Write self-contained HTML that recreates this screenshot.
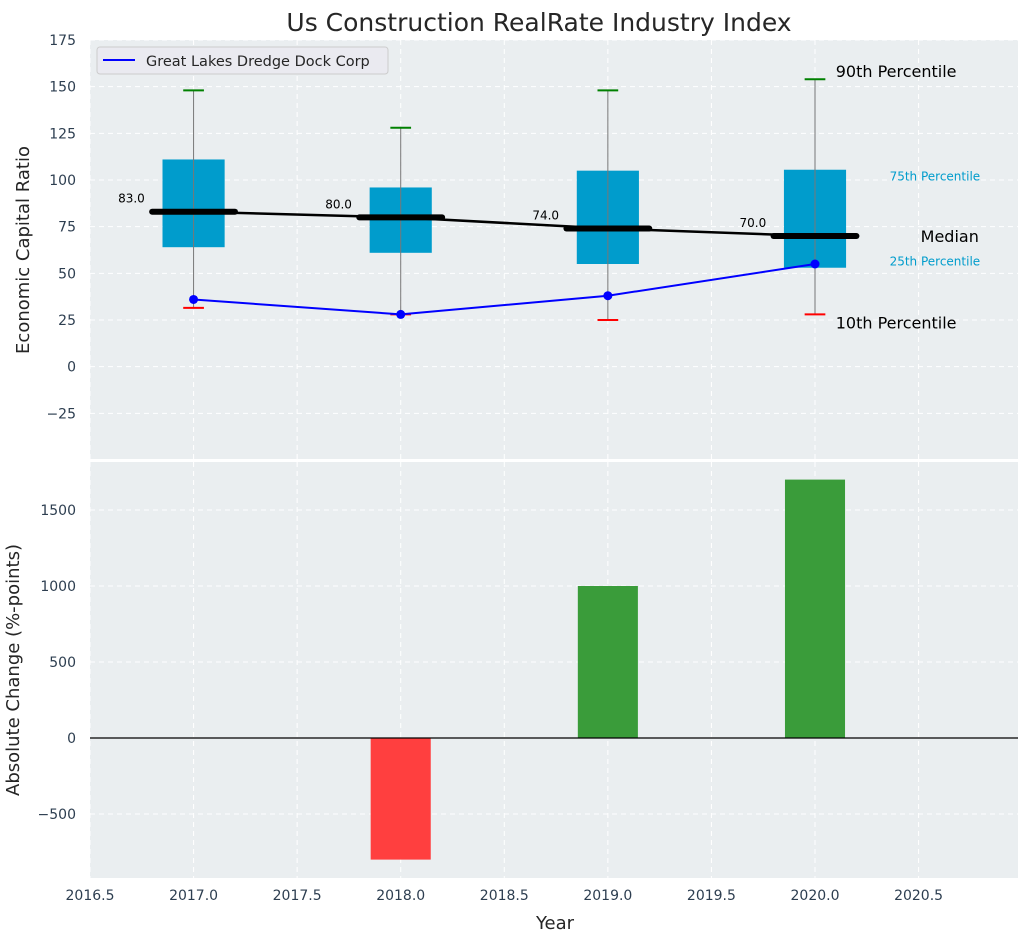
<!DOCTYPE html>
<html><head><meta charset="utf-8"><style>
body{margin:0;background:#fff;font-family:"Liberation Sans","DejaVu Sans",sans-serif;}
svg text{font-family:"DejaVu Sans","Liberation Sans",sans-serif;}
</style></head><body>
<svg id="c" width="1029" height="942" xmlns="http://www.w3.org/2000/svg"></svg>
<script>
const years=[2017,2018,2019,2020];
const p10=[31.5,28,25,28];
const p25=[64,61,55,53];
const median=[83,80,74,70];
const p75=[111,96,105,105.5];
const p90=[148,128,148,154];
const company=[36,28,38,55];
const changes=[0,-800,1000,1700];
const topTicks=[-25,0,25,50,75,100,125,150,175];
const botTicks=[-500,0,500,1000,1500];
const xTicks=[2016.5,2017,2017.5,2018,2018.5,2019,2019.5,2020,2020.5];

const NS="http://www.w3.org/2000/svg";
const svg=document.getElementById('c');
const L=90,R=1018,T1=40,B1=460,T2=460,B2=878;
const X=v=>L+(v-2016.5)/(2020.98-2016.5)*(R-L);
const Y1=v=>B1-(v+50)/(225)*(B1-T1);
const Y2=v=>738-v*76/500;
function el(tag,a,name,txt){const e=document.createElementNS(NS,tag);for(const k in a)e.setAttribute(k,a[k]);


if(txt!==undefined)e.textContent=txt;svg.appendChild(e);return e;}
el('rect',{x:L,y:T1,width:R-L,height:B1-T1,fill:'#eaeef0'},'top-plot-area');
el('rect',{x:L,y:T2+2,width:R-L,height:B2-T2-2,fill:'#eaeef0'},'bottom-plot-area');
xTicks.forEach(t=>{el('line',{x1:X(t),x2:X(t),y1:T1,y2:B1-1,stroke:'#fff','stroke-dasharray':'5,4'},'x-grid-top');
el('line',{x1:X(t),x2:X(t),y1:T2+2,y2:B2,stroke:'#fff','stroke-dasharray':'5,4'},'x-grid-bottom');
el('text',{x:X(t),y:B2+22,'text-anchor':'middle','font-size':14,fill:'#2d3e50'},'x-tick-label',t.toFixed(1));});
topTicks.forEach(t=>{el('line',{x1:L,x2:R,y1:Y1(t),y2:Y1(t),stroke:'#fff','stroke-dasharray':'5,4'},'y-grid-top');
el('text',{x:L-14,y:Y1(t)+5,'text-anchor':'end','font-size':14,fill:'#2d3e50'},'y-tick-label-top',t<0?'\u2212'+(-t):t);});
botTicks.forEach(t=>{el('line',{x1:L,x2:R,y1:Y2(t),y2:Y2(t),stroke:'#fff','stroke-dasharray':'5,4'},'y-grid-bottom');
el('text',{x:L-14,y:Y2(t)+5,'text-anchor':'end','font-size':14,fill:'#2d3e50'},'y-tick-label-bottom',t<0?'\u2212'+(-t):t);});
years.forEach((y,i)=>{
el('rect',{x:X(y-0.15),y:Y1(p75[i]),width:X(y+0.15)-X(y-0.15),height:Y1(p25[i])-Y1(p75[i]),fill:'#009ccc'},'box-'+y);
el('line',{x1:X(y),x2:X(y),y1:Y1(p90[i]),y2:Y1(p10[i]),stroke:'#777',"stroke-width":1},'whisker-'+y);
el('line',{x1:X(y-0.05),x2:X(y+0.05),y1:Y1(p90[i]),y2:Y1(p90[i]),stroke:'green',"stroke-width":2},'p90-cap-'+y);
el('line',{x1:X(y-0.05),x2:X(y+0.05),y1:Y1(p10[i]),y2:Y1(p10[i]),stroke:'red',"stroke-width":2},'p10-cap-'+y);
el('text',{x:X(y-0.3),y:Y1(median[i])-9,'text-anchor':'middle','font-size':12,fill:'#000'},'median-label-'+y,median[i].toFixed(1));
});
el('polyline',{points:years.map((y,i)=>X(y)+','+Y1(median[i])).join(' '),fill:'none',stroke:'#000','stroke-width':2.5},'median-line');
years.forEach((y,i)=>el('line',{x1:X(y-0.2),x2:X(y+0.2),y1:Y1(median[i]),y2:Y1(median[i]),stroke:'#000','stroke-width':6,'stroke-linecap':'round'},'median-bar-'+y));
el('polyline',{points:years.map((y,i)=>X(y)+','+Y1(company[i])).join(' '),fill:'none',stroke:'blue','stroke-width':2},'company-line');
years.forEach((y,i)=>el('circle',{cx:X(y),cy:Y1(company[i]),r:4.5,fill:'blue'},'company-point-'+y));
const ly=years.length-1,lx=X(2020.1);
el('text',{x:lx,y:Y1(p90[ly])-2,'font-size':16,fill:'#000'},'annot-90th','90th Percentile');
el('text',{x:X(2020.36),y:Y1(p75[ly])+11,'font-size':12,fill:'#009ccc'},'annot-75th','75th Percentile');
el('text',{x:X(2020.51),y:Y1(median[ly])+6,'font-size':16,fill:'#000'},'annot-median','Median');
el('text',{x:X(2020.36),y:Y1(p25[ly])-2,'font-size':12,fill:'#009ccc'},'annot-25th','25th Percentile');
el('text',{x:lx,y:Y1(p10[ly])+14,'font-size':16,fill:'#000'},'annot-10th','10th Percentile');
el('rect',{x:97,y:47,width:291,height:27,rx:3,fill:'#eaeaf0',stroke:'#ccc'},'legend');
el('line',{x1:103,x2:135,y1:60,y2:60,stroke:'blue','stroke-width':2},'legend-swatch');
el('text',{x:146,y:66,'font-size':14.5,fill:'#262626'},'legend-label','Great Lakes Dredge Dock Corp');
years.forEach((y,i)=>{const v=changes[i];if(!v)return;
el('rect',{x:X(y-0.145),y:Math.min(Y2(v),Y2(0)),width:X(y+0.145)-X(y-0.145),height:Math.abs(Y2(v)-Y2(0)),fill:v<0?'#ff3f3f':'#3a9c3a'},'change-bar-'+y);});
el('line',{x1:L,x2:R,y1:Y2(0),y2:Y2(0),stroke:'#000','stroke-width':1.2},'zero-line');
el('line',{x1:L,x2:R,y1:T2,y2:T2,stroke:'#fff','stroke-width':2},'separator');
el('text',{x:539,y:31,'text-anchor':'middle','font-size':25,fill:'#262626'},'chart-title','Us Construction RealRate Industry Index');
el('text',{x:555,y:929,'text-anchor':'middle','font-size':18,fill:'#262626'},'x-axis-title','Year');
el('text',{x:29,y:250,'text-anchor':'middle','font-size':18,fill:'#262626',transform:'rotate(-90 29 250)'},'y-axis-title-top','Economic Capital Ratio');
el('text',{x:19,y:670,'text-anchor':'middle','font-size':18,fill:'#262626',transform:'rotate(-90 19 670)'},'y-axis-title-bottom','Absolute Change (%-points)');
</script></body></html>
